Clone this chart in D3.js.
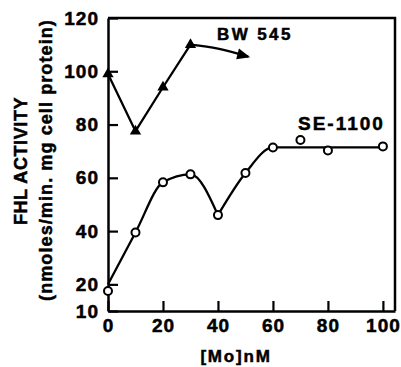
<!DOCTYPE html>
<html>
<head>
<meta charset="utf-8">
<script src="https://cdn.jsdelivr.net/npm/d3@7"></script>
<style>
  body { margin: 0; background: #fff; }
  svg { display: block; font-family: "Liberation Sans", Arial, sans-serif; font-weight: bold; }
  text { stroke: #000; stroke-width: 0.5px; }
</style>
</head>
<body>
<div id="chart"></div>
<script>
// BW 545 (filled triangles)
const bwX = [0, 10, 20, 30];
const bwY = [99, 77.5, 94, 110];
// tail of the BW 545 curve ending in an arrow
const bwTailX = [30, 40, 51];
const bwTailY = [110, 108.5, 105.5];

// SE-1100 (open circles)
const seX = [0, 10, 20, 30, 40, 50, 60, 70, 80, 100];
const seY = [17.5, 39.5, 58.3, 61.3, 46, 61.8, 71.4, 74.2, 70.3, 71.8];
// fitted curve through SE-1100, two pieces meeting at the dip
const seFitAX = [0, 10, 20, 30, 40];
const seFitAY = [20, 39.5, 58.3, 61.3, 46];
const seFitBX = [40, 50, 60, 100];
const seFitBY = [46, 61.8, 71.4, 71.4];

const xTicks = [0, 20, 40, 60, 80, 100];
const yTicks = [10, 20, 40, 60, 80, 100, 120];

const W = 401, H = 367;
const svg = d3.select('#chart').append('svg')
  .attr('width', W)
  .attr('height', H);

const x = d3.scaleLinear().domain([0, 104.4]).range([108, 395]);
const y = d3.scaleLinear().domain([10, 120]).range([311, 18]);

// frame (top and right)
svg.append('path')
  .attr('d', `M${x(0)},${y(120)}H${x(104.4)}V${y(10)}`)
  .attr('fill', 'none')
  .attr('stroke', '#000')
  .attr('stroke-width', 2.5);

// x axis, ticks pointing inward
const xAxis = svg.append('g')
  .attr('transform', `translate(0,${y(10)})`)
  .call(d3.axisBottom(x).tickValues(xTicks).tickSizeInner(-10).tickSizeOuter(0).tickPadding(8));
xAxis.select('.domain').attr('stroke-width', 2.5);
xAxis.selectAll('.tick line').attr('stroke-width', 2.2);
xAxis.selectAll('.tick text')
  .attr('font-size', 19)
  .attr('font-weight', 'bold')
  .attr('font-family', '"Liberation Sans", Arial, sans-serif')
  .attr('letter-spacing', 1)
  .attr('fill', '#000');

// y axis, ticks pointing inward
const yAxis = svg.append('g')
  .attr('transform', `translate(${x(0)},0)`)
  .call(d3.axisLeft(y).tickValues(yTicks).tickSizeInner(-10).tickSizeOuter(0).tickPadding(9));
yAxis.select('.domain').attr('stroke-width', 2.5);
yAxis.selectAll('.tick line').attr('stroke-width', 2.2);
yAxis.selectAll('.tick text')
  .attr('font-size', 19)
  .attr('font-weight', 'bold')
  .attr('font-family', '"Liberation Sans", Arial, sans-serif')
  .attr('letter-spacing', 1)
  .attr('fill', '#000');

// axis titles
svg.append('text')
  .attr('x', 236)
  .attr('y', 362)
  .attr('text-anchor', 'middle')
  .attr('font-size', 17)
  .attr('letter-spacing', 1.8)
  .text('[Mo]nM');

svg.append('text')
  .attr('transform', 'translate(27,161) rotate(-90)')
  .attr('text-anchor', 'middle')
  .attr('font-size', 18)
  .attr('letter-spacing', 0.6)
  .text('FHL ACTIVITY');

svg.append('text')
  .attr('transform', 'translate(52,160) rotate(-90)')
  .attr('text-anchor', 'middle')
  .attr('font-size', 18)
  .attr('letter-spacing', 1.1)
  .text('(nmoles/min. mg cell protein)');

// lines
const lineLin = d3.line().x(d => x(d[0])).y(d => y(d[1]));
const lineCurve = d3.line().curve(d3.curveMonotoneX).x(d => x(d[0])).y(d => y(d[1]));
const zip = (a, b) => a.map((v, i) => [v, b[i]]);

svg.append('path')
  .datum(zip(bwX, bwY))
  .attr('d', lineLin)
  .attr('fill', 'none').attr('stroke', '#000').attr('stroke-width', 2.3);

const tail = zip(bwTailX, bwTailY);
svg.append('path')
  .datum(tail)
  .attr('d', lineCurve)
  .attr('fill', 'none').attr('stroke', '#000').attr('stroke-width', 2.3);

// arrowhead at the end of BW 545
{
  const n = tail.length;
  const tx = x(tail[n - 1][0]), ty = y(tail[n - 1][1]);
  const px = x(tail[n - 2][0]), py = y(tail[n - 2][1]);
  const ang = Math.atan2(ty - py, tx - px) * 180 / Math.PI;
  svg.append('path')
    .attr('d', 'M2,0L-11,-5.5L-11,5.5Z')
    .attr('transform', `translate(${tx},${ty}) rotate(${ang})`)
    .attr('fill', '#000');
}

svg.append('path')
  .datum(zip(seFitAX, seFitAY))
  .attr('d', lineCurve)
  .attr('fill', 'none').attr('stroke', '#000').attr('stroke-width', 2.3);
svg.append('path')
  .datum(zip(seFitBX, seFitBY))
  .attr('d', lineCurve)
  .attr('fill', 'none').attr('stroke', '#000').attr('stroke-width', 2.3);

// markers
svg.selectAll('.tri')
  .data(zip(bwX, bwY))
  .enter().append('path')
  .attr('class', 'tri')
  .attr('d', d3.symbol(d3.symbolTriangle, 55))
  .attr('transform', d => `translate(${x(d[0])},${y(d[1])})`)
  .attr('fill', '#000');

svg.selectAll('.circ')
  .data(zip(seX, seY))
  .enter().append('circle')
  .attr('class', 'circ')
  .attr('cx', d => x(d[0]))
  .attr('cy', d => y(d[1]))
  .attr('r', 4)
  .attr('fill', '#fff')
  .attr('stroke', '#000')
  .attr('stroke-width', 2);

// series labels
svg.append('text')
  .attr('x', 217).attr('y', 40)
  .attr('font-size', 17)
  .attr('letter-spacing', 2.4)
  .text('BW 545');

svg.append('text')
  .attr('x', 298).attr('y', 130)
  .attr('font-size', 19)
  .attr('letter-spacing', 2)
  .text('SE-1100');
</script>
</body>
</html>
